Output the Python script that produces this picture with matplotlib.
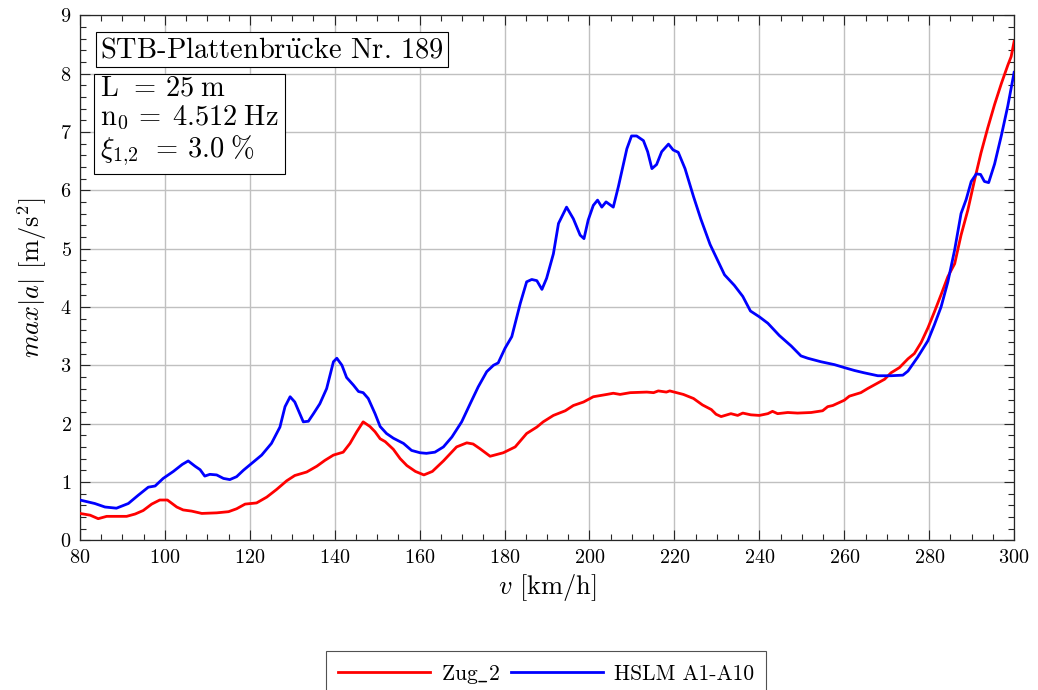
import matplotlib
matplotlib.use("Agg")
import matplotlib.pyplot as plt
from matplotlib.ticker import MultipleLocator

plt.rcParams["font.family"] = "serif"
plt.rcParams["font.serif"] = ["cmr10"]
plt.rcParams["mathtext.fontset"] = "cm"
plt.rcParams["axes.formatter.use_mathtext"] = True

# Zug_2 response: speed [km/h] vs. max |a| [m/s^2]
zug_v = [80, 82.4, 84.3, 86.3, 88.6, 91, 93, 94.9, 96.9, 98.8, 100.6, 102.8, 104.3,
         106.3, 108.7, 112.2, 115, 116.9, 118.9, 121.6, 124, 126.3, 128.7, 130.6,
         133.4, 135.8, 137.7, 139.7, 142, 143.6, 145.2, 146.7, 148.3, 149.5, 150.7,
         151.9, 153.8, 155.4, 157, 159, 161, 163, 165.6, 168.7, 171.1, 172.6, 174.2,
         176.6, 179.7, 182.5, 185.2, 187.6, 189.1, 191.5, 194.3, 196.2, 198.6, 200.9,
         204.1, 205.6, 207.2, 209.6, 213.5, 215.1, 216.2, 218.1, 218.9, 222.1, 224.5,
         226.6, 228.7, 229.8, 231, 233.3, 234.9, 236.1, 238, 240, 242, 243.1, 244.3,
         246.7, 249, 252.2, 254.9, 256.1, 257.3, 260, 261.2, 263.9, 265.5, 267.5,
         269.5, 271, 273, 275, 276.5, 278.1, 279.7, 281.2, 282.8, 284.4, 286, 287.5,
         289.1, 290.7, 292.2, 293.8, 295.4, 297, 298.5, 299.3, 300]
zug_a = [0.46, 0.43, 0.37, 0.41, 0.41, 0.41, 0.45, 0.51, 0.62, 0.69, 0.69, 0.57, 0.52,
         0.50, 0.46, 0.47, 0.49, 0.54, 0.62, 0.64, 0.74, 0.87, 1.02, 1.11,
         1.17, 1.27, 1.37, 1.46, 1.51, 1.66, 1.86, 2.03, 1.95, 1.86, 1.74,
         1.69, 1.56, 1.40, 1.28, 1.18, 1.12, 1.18, 1.36, 1.60, 1.67, 1.65, 1.57,
         1.44, 1.50, 1.60, 1.83, 1.94, 2.03, 2.14, 2.22, 2.31, 2.37, 2.46,
         2.50, 2.52, 2.50, 2.53, 2.54, 2.53, 2.56, 2.54, 2.56, 2.50, 2.43,
         2.32, 2.24, 2.16, 2.12, 2.17, 2.14, 2.18, 2.15, 2.14, 2.17, 2.21, 2.17,
         2.19, 2.18, 2.19, 2.22, 2.29, 2.31, 2.40, 2.47, 2.53, 2.60, 2.68,
         2.76, 2.87, 2.96, 3.11, 3.20, 3.39, 3.64, 3.91, 4.21, 4.52, 4.74, 5.23,
         5.66, 6.18, 6.64, 7.07, 7.47, 7.83, 8.14, 8.29, 8.55]

# HSLM A1-A10 envelope
hslm_v = [80, 82.4, 83.5, 85.9, 88.6, 91.4, 93.7, 96.1, 97.7, 99.6, 102, 103.6, 104.1,
          105.5, 107.1, 108.3, 109.4, 110.6, 112.2, 113.8, 115.3, 116.9, 118.5, 120.8,
          122.8, 125.1, 127.1, 128.3, 129.5, 130.6, 132.6, 133.8, 135, 136.5, 138.1,
          139.7, 140.5, 141.7, 142.8, 144.4, 145.6, 146.7, 147.9, 149.5, 150.7, 152.2,
          153.8, 156.2, 158.1, 160.1, 161.6, 163.6, 165.6, 167.6, 169.9, 171.9, 173.8,
          175.8, 177.4, 178.5, 180.1, 181.7, 183.7, 185.2, 186.4, 187.6, 188.8, 189.9,
          191.5, 192.7, 194.6, 196.2, 197.8, 198.7, 199.7, 200.9, 201.9, 202.9, 203.9,
          205.6, 206.8, 208.8, 209.9, 211.1, 212.7, 213.7, 214.7, 215.8, 217, 218.6,
          219.7, 220.9, 222.5, 224.5, 226.2, 228.4, 231.8, 234.1, 236.1, 237.9, 240,
          242, 244.7, 247.5, 249.8, 251.4, 254.5, 257.7, 260, 262.4, 264.7, 267.9,
          271, 273.8, 275, 277.3, 279.7, 281.2, 282.8, 284.4, 286, 287.5, 288.7, 289.9,
          291.1, 292.1, 293, 294, 295.4, 297, 298.5, 300]
hslm_a = [0.69, 0.65, 0.63, 0.57, 0.55, 0.63, 0.77, 0.91, 0.93, 1.06, 1.18, 1.27, 1.30,
          1.36, 1.27, 1.21, 1.10, 1.13, 1.12, 1.06, 1.04, 1.09, 1.20, 1.34,
          1.46, 1.66, 1.94, 2.29, 2.46, 2.37, 2.03, 2.04, 2.17, 2.34, 2.60,
          3.06, 3.12, 3.00, 2.79, 2.66, 2.55, 2.53, 2.43, 2.17, 1.95, 1.83,
          1.75, 1.66, 1.54, 1.50, 1.49, 1.51, 1.60, 1.77, 2.03, 2.34, 2.63,
          2.89, 3.00, 3.04, 3.29, 3.49, 4.06, 4.43, 4.47, 4.45, 4.30, 4.49,
          4.91, 5.43, 5.71, 5.51, 5.23, 5.17, 5.49, 5.74, 5.83, 5.71, 5.80,
          5.71, 6.06, 6.71, 6.93, 6.93, 6.85, 6.66, 6.37, 6.44, 6.66, 6.79,
          6.69, 6.65, 6.37, 5.89, 5.51, 5.07, 4.55, 4.37, 4.18, 3.93, 3.83,
          3.72, 3.51, 3.33, 3.16, 3.12, 3.06, 3.01, 2.96, 2.91, 2.87, 2.82,
          2.82, 2.83, 2.90, 3.14, 3.42, 3.69, 4.00, 4.43, 4.98, 5.60, 5.84, 6.15,
          6.28, 6.27, 6.15, 6.13, 6.45, 6.94, 7.44, 8.02]

x_ticks = [80, 100, 120, 140, 160, 180, 200, 220, 240, 260, 280, 300]
y_ticks = [0, 1, 2, 3, 4, 5, 6, 7, 8, 9]

fig = plt.figure(figsize=(10.38, 6.90), dpi=100)
ax = fig.add_axes([0.077, 0.217, 0.9, 0.761])

ax.plot(zug_v, zug_a, color="#ff0000", lw=2.0, label=r"Zug$\_$2", zorder=3)
ax.plot(hslm_v, hslm_a, color="#0000ff", lw=2.0, label="HSLM A1-A10", zorder=3)

ax.set_xlim(80, 300)
ax.set_ylim(0, 9)
ax.set_xticks(x_ticks)
ax.set_yticks(y_ticks)
ax.xaxis.set_minor_locator(MultipleLocator(5))
ax.yaxis.set_minor_locator(MultipleLocator(0.2))
ax.tick_params(which="both", direction="in", top=True, right=True,
               color="#262626", labelsize=14.5)
ax.tick_params(which="major", length=7, width=0.8, pad=6)
ax.tick_params(which="minor", length=4, width=0.8)
ax.grid(True, which="major", color="#c0c0c0", lw=1.0)
ax.set_axisbelow(True)
for s in ax.spines.values():
    s.set_color("#262626")
    s.set_linewidth(0.9)

ax.set_xlabel(r"$v$ [km/h]", fontsize=19, labelpad=4)
ax.set_ylabel(r"$max|a|$ [m/s$^2$]", fontsize=19, labelpad=8)

ax.text(0.0215, 0.934, r"STB-Plattenbr$\ddot{\mathrm{u}}$cke Nr. 189", transform=ax.transAxes,
        fontsize=20.5, va="center", ha="left", zorder=5,
        bbox=dict(boxstyle="square,pad=0.15", fc="white", ec="black", lw=0.8))
params_text = ("$\\mathrm{L}\\;\\,=\\,25\\;\\mathrm{m}$\n"
               "$\\mathrm{n}_0\\,=\\;4.512\\;\\mathrm{Hz}$\n"
               "$\\xi_{1{,}2}\\;\\,=\\,3.0\\;\\%$")
ax.text(0.0215, 0.797, params_text, transform=ax.transAxes,
        fontsize=20.5, va="center", ha="left", linespacing=1.08, zorder=5,
        bbox=dict(boxstyle="square,pad=0.22", fc="white", ec="black", lw=0.8))

leg = fig.legend(loc="upper center", bbox_to_anchor=(0.526, 0.057), ncol=2,
                 fontsize=15.5, frameon=True, fancybox=False, edgecolor="#262626",
                 handlelength=4.3, handletextpad=0.5, columnspacing=0.5,
                 borderpad=0.55, borderaxespad=0.0)
leg.get_frame().set_linewidth(0.8)

fig.savefig("out.png", dpi=100)
